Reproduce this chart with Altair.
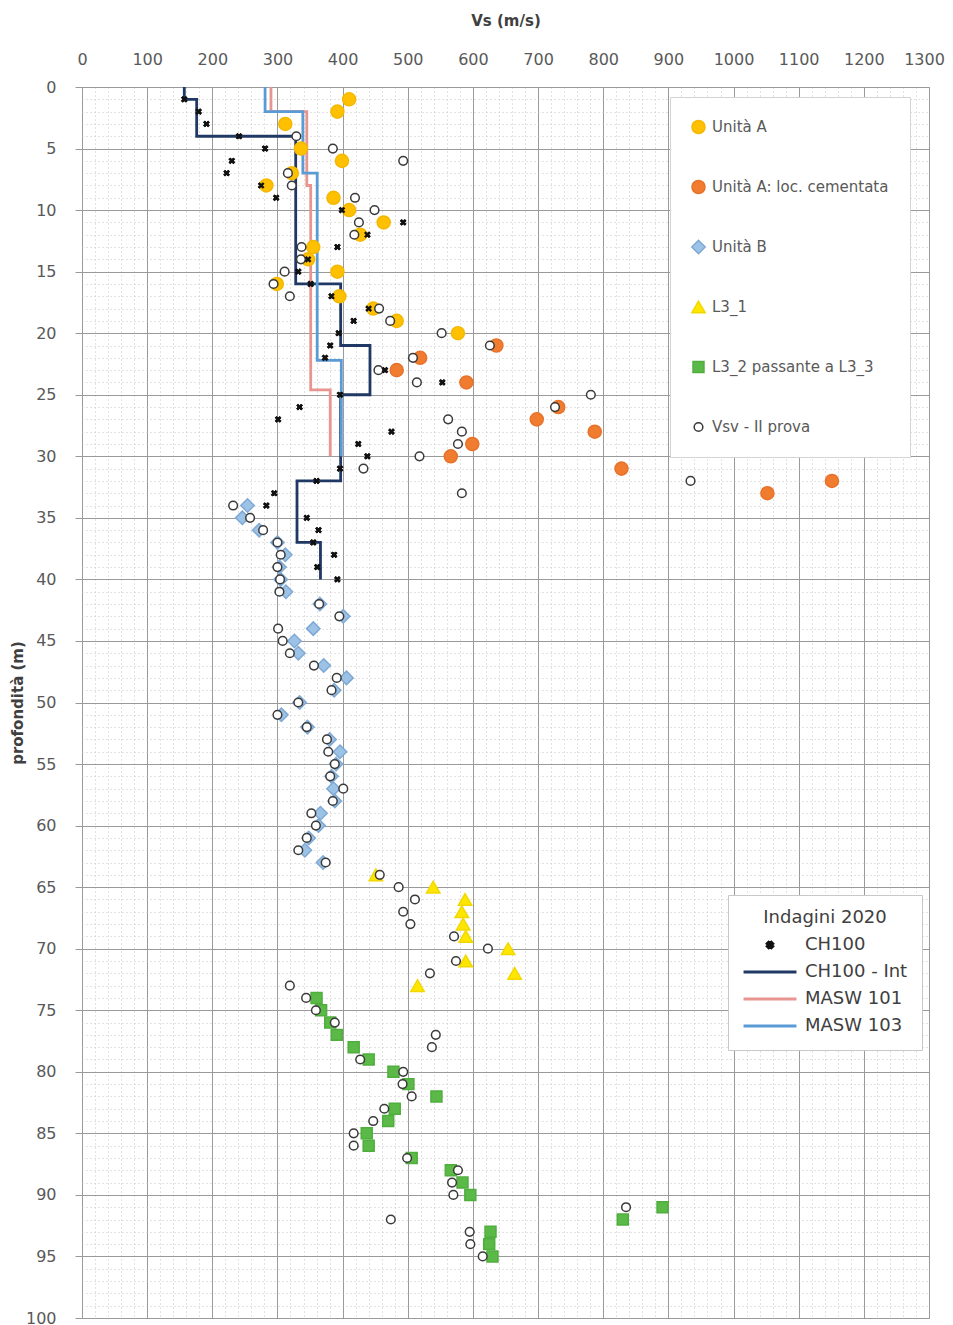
import altair as alt
import pandas as pd

# ---------------- data ----------------
ua_depth = [1, 2, 3, 5, 6, 7, 8, 9, 10, 11, 12, 13, 14, 15, 16, 17, 18, 19, 20]
ua_vs = [410, 392, 312, 336, 399, 322, 283, 386, 410, 463, 427, 355, 347, 392, 299, 395, 447, 483, 577]

uac_depth = [21, 22, 23, 24, 26, 27, 28, 29, 30, 31, 32, 33]
uac_vs = [636, 519, 483, 590, 731, 698, 787, 599, 566, 828, 1151, 1052]

ub_depth = [34, 35, 36, 37, 38, 39, 40, 41, 42, 43, 44, 45, 46, 47, 48, 49, 50, 51, 52, 53,
            54, 55, 56, 57, 58, 59, 60, 61, 62, 63]
ub_vs = [254, 246, 272, 300, 312, 303, 305, 313, 365, 401, 355, 326, 332, 371, 406, 387, 334, 306, 346, 380,
         396, 390, 383, 386, 388, 366, 363, 348, 342, 370]

l31_depth = [64, 65, 66, 67, 68, 69, 70, 71, 72, 73]
l31_vs = [451, 539, 588, 583, 585, 589, 654, 589, 664, 515]

l32_depth = [74, 75, 76, 77, 78, 79, 80, 81, 82, 83, 84, 85, 86, 87, 88, 89, 90, 91, 92, 93, 94, 95]
l32_vs = [360, 367, 381, 391, 417, 440, 478, 501, 544, 480, 470, 437, 440, 506, 566, 584, 596, 891, 830, 627, 625, 630]

vsv_depth = [4, 5, 6, 7, 8, 9, 10, 11, 12, 13, 14, 15, 16, 17, 18, 19, 20, 21, 22, 23,
             24, 25, 26, 27, 28, 29, 30, 31, 32, 33, 34, 35, 36, 37, 38, 39, 40, 41, 42, 43,
             44, 45, 46, 47, 48, 49, 50, 51, 52, 53, 54, 55, 56, 57, 58, 59, 60, 61, 62, 63,
             64, 65, 66, 67, 68, 69, 70, 71, 72, 73, 74, 75, 76, 77, 78, 79, 80, 81, 82, 83,
             84, 85, 86, 87, 88, 89, 90, 91, 92, 93, 94, 95]
vsv_vs = [329, 385, 493, 316, 322, 419, 449, 425, 418, 337, 336, 311, 294, 319, 456, 473, 552, 626, 508, 455,
          514, 781, 726, 562, 583, 577, 518, 432, 934, 583, 232, 258, 278, 300, 305, 300, 304, 303, 364, 395,
          301, 308, 319, 356, 391, 383, 332, 300, 345, 376, 378, 388, 381, 401, 385, 352, 359, 345, 332, 374,
          457, 486, 511, 493, 504, 571, 623, 574, 534, 319, 344, 359, 388, 543, 537, 427, 493, 492, 506, 464,
          447, 417, 417, 499, 577, 568, 570, 835, 474, 595, 596, 615]

ch_depth = [1, 2, 3, 4, 5, 6, 7, 8, 9, 10, 11, 12, 13, 14, 15, 16, 17, 18, 19, 20,
            21, 22, 23, 24, 25, 26, 27, 28, 29, 30, 31, 32, 33, 34, 35, 36, 37, 38, 39, 40]
ch_vs = [157, 179, 191, 241, 281, 230, 222, 275, 298, 399, 493, 438, 392, 347, 332, 351, 383, 440, 417, 394,
         381, 373, 465, 553, 396, 334, 301, 475, 424, 438, 396, 360, 295, 283, 345, 363, 355, 387, 361, 392]

# step profiles: layer top, layer bottom, Vs
chint_top = [0, 1, 4, 16, 21, 25, 32, 37]
chint_bot = [1, 4, 16, 21, 25, 32, 37, 40]
chint_vs = [157, 176, 328, 397, 442, 397, 330, 366]

m101_top = [0, 2, 8, 24.6]
m101_bot = [2, 8, 24.6, 30]
m101_vs = [290, 345, 351, 381]

m103_top = [0, 2, 7, 22.2]
m103_bot = [2, 7, 22.2, 30]
m103_vs = [281, 339, 361, 398]

serie_names = ["Unità A", "Unità A: loc. cementata", "Unità B", "L3_1",
               "L3_2 passante a L3_3", "Vsv - II prova"]
prof_names = ["CH100", "CH100 - Int", "MASW 101", "MASW 103"]

# ---------------- tables ----------------
rows = []
for name, ds, vs in zip(serie_names,
                        [ua_depth, uac_depth, ub_depth, l31_depth, l32_depth, vsv_depth],
                        [ua_vs, uac_vs, ub_vs, l31_vs, l32_vs, vsv_vs]):
    for d, v in zip(ds, vs):
        rows.append({"serie": name, "depth": d, "vs": v})
pts = pd.DataFrame(rows)

ch_df = pd.DataFrame({"profilo": "CH100", "depth": ch_depth, "vs": ch_vs})

lrows = []
for name, tops, bots, vss in [("CH100 - Int", chint_top, chint_bot, chint_vs),
                              ("MASW 101", m101_top, m101_bot, m101_vs),
                              ("MASW 103", m103_top, m103_bot, m103_vs)]:
    i = 0
    for t, b, v in zip(tops, bots, vss):
        lrows.append({"profilo": name, "depth": t, "vs": v, "i": i})
        lrows.append({"profilo": name, "depth": b, "vs": v, "i": i + 1})
        i += 2
lines_df = pd.DataFrame(lrows)

# ---------------- axes ----------------
FONT = "DejaVu Sans"
xaxis = alt.Axis(
    orient="top", values=list(range(0, 1301, 20)), format="d",
    labelExpr="datum.value % 100 === 0 ? datum.label : ''",
    labelOffset={"condition": {"test": "datum.value === 1300", "value": -5}, "value": 0},
    ticks=False, tickSize=0, domain=False, labelPadding=20,
    labelFont=FONT, labelFontSize=16, labelColor="#595959",
    labelFlush=False, labelOverlap=False, labelBound=False,
    title="Vs (m/s)", titleFont=FONT, titleFontSize=15, titleFontWeight="bold",
    titleColor="#404040", titlePadding=23,
    grid=True, gridWidth=1,
    gridColor={"condition": {"test": "datum.value % 100 === 0", "value": "#9a9a9a"}, "value": "#c4c4c4"},
    gridDash={"condition": {"test": "datum.value % 100 === 0", "value": []}, "value": [1, 3]},
)
yaxis = alt.Axis(
    orient="left", values=list(range(0, 101, 1)), format="d",
    labelExpr="datum.value % 5 === 0 ? datum.label : ''",
    ticks=True, tickSize=7, tickColor="#9a9a9a",
    tickOpacity={"condition": {"test": "datum.value % 5 === 0", "value": 1}, "value": 0},
    domain=False, labelPadding=19,
    labelFont=FONT, labelFontSize=16, labelColor="#595959",
    labelFlush=False, labelOverlap=False, labelBound=False,
    title="profondità (m)", titleFont=FONT, titleFontSize=15, titleFontWeight="bold",
    titleColor="#404040", titlePadding=0,
    grid=True, gridWidth=1,
    gridColor={"condition": {"test": "datum.value % 5 === 0", "value": "#9a9a9a"}, "value": "#c4c4c4"},
    gridDash={"condition": {"test": "datum.value % 5 === 0", "value": []}, "value": [1, 3]},
)

X = alt.X("vs:Q", scale=alt.Scale(domain=[0, 1300], nice=False, zero=False), axis=xaxis)
Y = alt.Y("depth:Q", scale=alt.Scale(domain=[0, 100], nice=False, reverse=True), axis=yaxis)

# ---------------- legend 1 : points ----------------
legend1 = alt.Legend(
    title=None, orient="none", legendX=588, legendY=10,
    fillColor="white", strokeColor="#d4d4d4", padding=21,
    rowPadding=42, clipHeight=18, labelOffset=6,
    labelFont=FONT, labelFontSize=15, labelColor="#595959", labelLimit=400,
)
fill_range = ["#ffc000", "#f07c30", "#9cc2e5", "#ffe600", "#5ab947", "#ffffff"]
stroke_range = ["#f5b800", "#e8722a", "#7fa9d5", "#f2d800", "#4fae3e", "#3a3a3a"]
shape_range = ["circle", "circle", "diamond", "triangle-up", "square", "circle"]
size_range = [170, 170, 180, 180, 120, 75]

points = alt.Chart(pts).mark_point(filled=True, opacity=1, strokeWidth=1.5).encode(
    x=X, y=Y,
    fill=alt.Fill("serie:N", scale=alt.Scale(domain=serie_names, range=fill_range), legend=legend1),
    stroke=alt.Stroke("serie:N", scale=alt.Scale(domain=serie_names, range=stroke_range), legend=legend1),
    shape=alt.Shape("serie:N", scale=alt.Scale(domain=serie_names, range=shape_range), legend=legend1),
    size=alt.Size("serie:N", scale=alt.Scale(type="ordinal", domain=serie_names, range=size_range), legend=legend1),
)

# ---------------- legend 2 : profiles ----------------
XPATH = "M-1,-0.5L-0.5,-1L0,-0.5L0.5,-1L1,-0.5L0.5,0L1,0.5L0.5,1L0,0.5L-0.5,1L-1,0.5L-0.5,0Z"
legend2 = alt.Legend(
    title="Indagini 2020", orient="none", legendX=646, legendY=808,
    fillColor="white", strokeColor="#c8c8c8", padding=14,
    titleFont=FONT, titleFontSize=18, titleFontWeight="normal", titleColor="#404040",
    titleAnchor="middle", titlePadding=8,
    rowPadding=7, clipHeight=20, labelOffset=7, symbolStrokeWidth=3,
    labelFont=FONT, labelFontSize=18, labelColor="#404040", labelLimit=400,
)
prof_stroke = ["#111111", "#1f3864", "#e8958f", "#5b9bd5"]
stroke2 = alt.Stroke("profilo:N", scale=alt.Scale(domain=prof_names, range=prof_stroke), legend=legend2)

lines = alt.Chart(lines_df).mark_line(strokeWidth=2.8).encode(
    x=X, y=Y, order="i:Q", stroke=stroke2,
)
ch_pts = alt.Chart(ch_df).mark_point(filled=True, opacity=1, strokeWidth=1).encode(
    x=X, y=Y, stroke=stroke2,
    fill=alt.Fill("profilo:N", scale=alt.Scale(domain=prof_names, range=prof_stroke), legend=legend2),
    shape=alt.Shape("profilo:N", scale=alt.Scale(domain=prof_names, range=[XPATH, "stroke", "stroke", "stroke"]),
                    legend=legend2),
    size=alt.Size("profilo:N", scale=alt.Scale(type="ordinal", domain=prof_names, range=[30, 2800, 2800, 2800]),
                  legend=legend2),
)
inner = alt.layer(lines, ch_pts)

ch_top = alt.Chart(ch_df).mark_point(filled=True, opacity=1, shape=XPATH, size=45,
                                      color="#111111", strokeWidth=1).encode(x=X, y=Y)

chart = alt.layer(inner, points, ch_top).resolve_scale(
    fill="independent", stroke="independent", shape="independent", size="independent"
).properties(
    width=847, height=1231,
    autosize=alt.AutoSizeParams(type="none"),
    padding={"left": 74, "top": 79, "right": 16, "bottom": 12},
    background="white",
).configure_view(stroke="#9a9a9a", strokeWidth=1)

chart.save("out.html", embed_options={"renderer": "svg", "actions": False})
